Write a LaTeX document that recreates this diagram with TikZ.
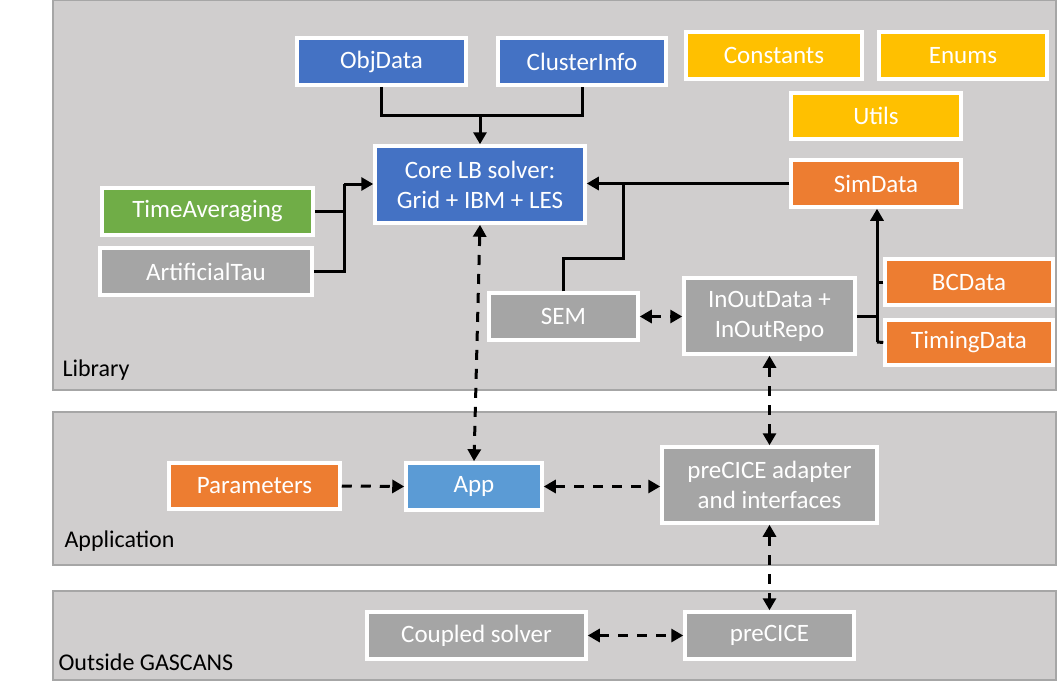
\documentclass[tikz,border=0pt]{standalone}
\usepackage{fontspec}
\setmainfont{Carlito}
\usetikzlibrary{arrows.meta}

\definecolor{panelgray}{HTML}{D0CECE}
\definecolor{paneledge}{HTML}{A6A6A6}
\definecolor{coreblue}{HTML}{4472C4}
\definecolor{appblue}{HTML}{5B9BD5}
\definecolor{dataorange}{HTML}{ED7D31}
\definecolor{constyellow}{HTML}{FFC000}
\definecolor{avggreen}{HTML}{70AD47}
\definecolor{boxgray}{HTML}{A5A5A5}

\begin{document}
\begin{tikzpicture}[
x=1pt,y=-1pt,
panel/.style={draw=paneledge,fill=panelgray,line width=1.5pt},
paneltitle/.style={anchor=west,font=\fontsize{24}{28}\selectfont,text=black},
box/.style={draw=white,line width=3.5pt,text=white,align=center,minimum height=47pt,inner sep=2pt,font=\fontsize{25}{30}\selectfont},
coremod/.style={box,fill=coreblue},
appmod/.style={box,fill=appblue},
datamod/.style={box,fill=dataorange},
helpmod/.style={box,fill=constyellow},
avgmod/.style={box,fill=avggreen},
extmod/.style={box,fill=boxgray},
link/.style={line width=3pt},
arrow/.style={link,-{Triangle[length=12pt,width=13pt]}},
dashlink/.style={link,dash pattern=on 10pt off 9pt},
dasharrow/.style={dashlink,-{Triangle[length=12pt,width=13pt]}},
dashboth/.style={dashlink,{Triangle[length=12pt,width=13pt]}-{Triangle[length=12pt,width=13pt]}}
]
\useasboundingbox (0,0) rectangle (1057,693);

% layers
\draw[panel] (53,0) rectangle (1056,390);
\draw[panel] (53,412) rectangle (1056,565);
\draw[panel] (53,591) rectangle (1056,680);
\node[paneltitle] (libtitle) at (59,370) {Library};
\node[paneltitle] (apptitle) at (61,541) {Application};
\node[paneltitle] (outtitle) at (55,662) {Outside GASCANS};

% library modules
\node[coremod,minimum width=169pt] (objdata) at (381.5,61.5) {ObjData};
\node[coremod,minimum width=168pt] (clusterinfo) at (582,61.5) {ClusterInfo};
\node[helpmod,minimum width=176pt] (constants) at (774,55.5) {Constants};
\node[helpmod,minimum width=168pt] (enums) at (963,55.5) {Enums};
\node[helpmod,minimum width=170pt,minimum height=46pt] (utils) at (876,116) {Utils};
\node[coremod,minimum width=210pt,minimum height=77pt] (core) at (480,184.5) {Core LB solver:\\Grid + IBM + LES};
\node[datamod,minimum width=170pt] (simdata) at (876,183.5) {SimData};
\node[avgmod,minimum width=211pt] (timeavg) at (207.5,211.5) {TimeAveraging};
\node[extmod,minimum width=212pt] (arttau) at (206,271.5) {ArtificialTau};
\node[datamod,minimum width=168pt,minimum height=46pt] (bcdata) at (969,282) {BCData};
\node[datamod,minimum width=168pt,minimum height=45pt] (timing) at (969,342.5) {TimingData};
\node[extmod,minimum width=149pt] (sem) at (563.5,316.5) {SEM};
\node[extmod,minimum width=171pt,minimum height=76pt] (inout) at (769.5,316) {InOutData +\\InOutRepo};

% application
\node[datamod,minimum width=171pt,minimum height=46pt] (params) at (254.5,486) {Parameters};
\node[appmod,minimum width=136pt] (app) at (474,486.5) {App};
\node[extmod,minimum width=215pt,minimum height=76pt] (adapter) at (769.5,485) {preCICE adapter\\and interfaces};

% outside
\node[extmod,minimum width=219pt] (coupled) at (476.5,635.5) {Coupled solver};
\node[extmod,minimum width=169pt] (precice) at (769.5,635.5) {preCICE};

% solid links
\coordinate (joinobj) at (480,115);
\draw[link] (objdata.south) |- (joinobj) -| (clusterinfo.south);
\draw[arrow] (joinobj) -- (core.north -| joinobj);
\coordinate (jointau) at (344,184);
\draw[link] (timeavg.east) -| (jointau);
\draw[link] (arttau.east) -| (jointau);
\draw[arrow] (jointau) -- (core.west |- jointau);
\draw[arrow] (simdata.west) -- (core.east |- simdata.west);
\coordinate (joinsem) at (623,183.5);
\draw[link] (sem.north) |- (623,258) -- (joinsem);
\coordinate (joindata) at (877,342);
\draw[link] (inout.east) -- (inout.east -| joindata);
\draw[link] (bcdata.west) -- (bcdata.west -| joindata);
\draw[link] (timing.west) -- (joindata);
\draw[arrow] (joindata) -- (simdata.south -| joindata);

% dashed links
\draw[dashboth] (sem.east) -- (inout.west |- sem.east);
\draw[dashboth] (core.south) -- (app.north);
\draw[dashboth] (inout.south) -- (adapter.north);
\draw[dasharrow] (params.east) -- (app.west);
\draw[dashboth] (app.east) -- (adapter.west |- app.east);
\draw[dashboth] (adapter.south) -- (precice.north);
\draw[dashboth] (coupled.east) -- (precice.west);
\end{tikzpicture}
\end{document}
